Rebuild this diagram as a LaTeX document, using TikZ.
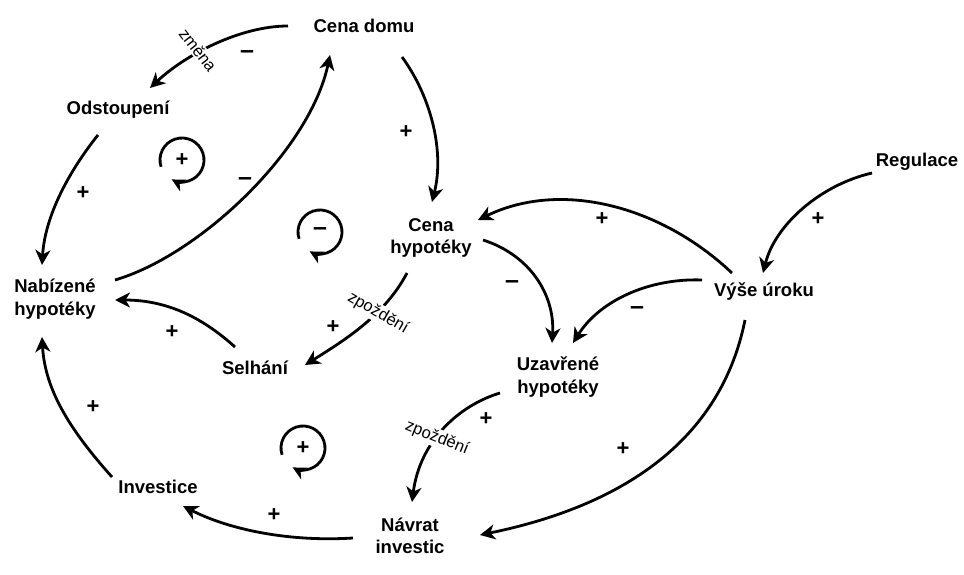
\documentclass[tikz,border=0pt]{standalone}
\usepackage{fontspec}
\setmainfont{Liberation Sans}
\usetikzlibrary{arrows.meta,calc}
\begin{document}
\begin{tikzpicture}[x=1pt,y=-1pt,
  var/.style={font=\fontsize{18.5}{22.5}\selectfont\bfseries,align=center,inner sep=0pt},
  arr/.style={line width=2.8pt,-{Stealth[length=15pt,width=15pt,inset=4.5pt]}},
  loopar/.style={line width=2.8pt,-{Stealth[length=13pt,width=13pt,inset=4pt]}},
  plus/.style={font=\fontsize{22}{22}\selectfont\bfseries,inner sep=0pt},
  minus/.style={font=\fontsize{25}{25}\selectfont\bfseries,inner sep=0pt},
  lbl/.style={font=\fontsize{16.5}{16.5}\selectfont,fill=white,inner sep=1.5pt}]
\useasboundingbox (0,0) rectangle (964,575);
% variables
\node[var] (cd) at (364,26) {Cena domu};
\node[var] (od) at (118,110) {Odstoupení};
\node[var] (nh) at (55,299) {Nabízené\\hypotéky};
\node[var] (ch) at (431,238) {Cena\\hypotéky};
\node[var] (se) at (255,368) {Selhání};
\node[var] (uh) at (558,377) {Uzavřené\\hypotéky};
\node[var] (vu) at (764,292) {Výše úroku};
\node[var] (rg) at (917,162) {Regulace};
\node[var] (inv) at (158,487) {Investice};
\node[var] (nv) at (410,536) {Návrat\\investic};
% connectors
\draw[arr] ($(cd)+(-76,0)$) .. controls (240,26) and (185,55) .. ($(od)+(32,-22)$);
\draw[arr] ($(nh)+(60,-19)$) .. controls (200,255) and (310,150) .. ($(cd)+(-34,29)$);
\draw[arr] ($(od)+(-20,25)$) .. controls (70,170) and (45,215) .. ($(nh)+(-13,-34)$);
\draw[arr] ($(cd)+(38,31)$) .. controls (430,95) and (445,150) .. ($(ch)+(1,-36)$);
\draw[arr] ($(ch)+(52,2)$) .. controls (530,255) and (555,295) .. ($(uh)+(-6,-34)$);
\draw[arr] ($(vu)+(-32,-19)$) .. controls (660,205) and (560,180) .. ($(ch)+(47,-18)$);
\draw[arr] ($(vu)+(-62,-12)$) .. controls (650,278) and (600,300) .. ($(uh)+(15,-34)$);
\draw[arr] ($(rg)+(-45,11)$) .. controls (820,185) and (775,225) .. ($(vu)+(-1,-19)$);
\draw[arr] ($(vu)+(-19,28)$) .. controls (725,420) and (650,500) .. ($(nv)+(70,-1)$);
\draw[arr] ($(uh)+(-58,16)$) .. controls (460,405) and (420,440) .. ($(nv)+(2,-34)$);
\draw[arr] ($(ch)+(-24,35)$) .. controls (385,315) and (345,340) .. ($(se)+(50,-3)$);
\draw[arr] ($(se)+(-20,-21)$) .. controls (205,320) and (170,300) .. ($(nh)+(60,1)$);
\draw[arr] ($(inv)+(-46,-10)$) .. controls (70,430) and (45,390) .. ($(nh)+(-13,38)$);
\draw[arr] ($(nv)+(-57,2)$) .. controls (290,542) and (230,530) .. ($(inv)+(25,19)$);
% delay / change labels
\node[lbl,rotate=-52] (lz) at (198,50) {změna};
\node[lbl,rotate=-30] (lp1) at (378,313) {zpoždění};
\node[lbl,rotate=-22] (lp2) at (437,438) {zpoždění};
% polarity signs
\node[minus] (s1) at (247,55) {–};
\node[minus] (s2) at (245,182) {–};
\node[plus] (s3) at (406,132) {+};
\node[plus] (s4) at (83,193) {+};
\node[plus] (s5) at (172,332) {+};
\node[plus] (s6) at (333,327) {+};
\node[minus] (s7) at (512,285) {–};
\node[plus] (s8) at (602,219) {+};
\node[minus] (s9) at (637,311) {–};
\node[plus] (s10) at (818,219) {+};
\node[plus] (s11) at (93,407) {+};
\node[plus] (s12) at (274,515) {+};
\node[plus] (s13) at (486,419) {+};
\node[plus] (s14) at (623,449) {+};
% loops
\coordinate (L1) at (182,160);
\coordinate (L2) at (320,232);
\coordinate (L3) at (303,448);
\draw[loopar] ($(L1)+(162:22)$) arc[start angle=162, end angle=478, radius=22];
\draw[loopar] ($(L2)+(162:22)$) arc[start angle=162, end angle=478, radius=22];
\draw[loopar] ($(L3)+(162:22)$) arc[start angle=162, end angle=478, radius=22];
\node[plus] (l1s) at (L1) {+};
\node[minus] (l2s) at (L2) {–};
\node[plus] (l3s) at (L3) {+};
\end{tikzpicture}
\end{document}
